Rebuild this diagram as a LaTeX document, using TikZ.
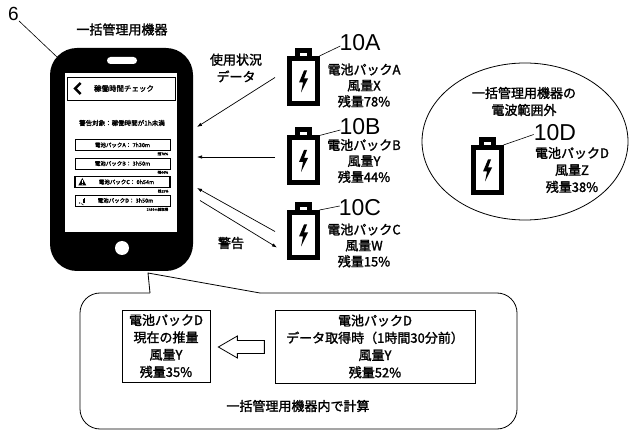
\documentclass[tikz,border=0pt]{standalone}
\usepackage{fontspec}
\setmainfont{Noto Sans CJK JP}[RawFeature={embolden=1.6}]
\newfontfamily\latinfont{Liberation Sans}
\usetikzlibrary{arrows.meta,calc,shapes.geometric}

\tikzset{
  battery/.pic={
    % body, cap and lightning bolt of a battery pack symbol
    \draw[line width=5pt] (-14,-19) rectangle (14,26);
    \draw[line width=5pt] (-6,-19) -- (-6,-27) -- (6,-27) -- (6,-19);
    \fill (1,-7) -- (-4,5) -- (0,5) -- (-2,15) -- (5,1) -- (1,1) -- (4,-7) -- cycle;
    \coordinate (-ne) at (16.5,-21.5);
    \coordinate (-out) at (-28,0);
    \coordinate (-in) at (-26,16);
  }
}

\begin{document}
\begin{tikzpicture}[x=1pt,y=-1pt,
  txt/.style={font=\fontsize{13}{16}\selectfont, align=center, inner sep=0pt},
  refnum/.style={font=\latinfont\fontsize{23}{23}\selectfont, inner sep=0pt},
  lead/.style={line width=0.6pt},
  flow/.style={line width=0.7pt, -{Latex[length=5pt,width=3.5pt]}},
  tiny/.style={font=\fontsize{5.5}{6}\selectfont, inner sep=0pt},
  micro/.style={font=\fontsize{3.5}{4}\selectfont, inner sep=0pt, anchor=east},
  itembox/.style={draw, line width=0.8pt, minimum width=95pt, minimum height=11pt, inner sep=0pt},
  calcbox/.style={draw, line width=0.7pt, align=center, inner sep=0pt,
    font=\fontsize{13}{17.3}\selectfont},
]
\useasboundingbox (0,0) rectangle (629,430);

% ---------- the central management device ----------
\node[fill=black, rounded corners=27pt, minimum width=143pt, minimum height=223pt, inner sep=0pt] (phone) at (121.5,159.5) {};
\node[fill=white, minimum width=112pt, minimum height=159pt, inner sep=0pt] (screen) at (121,152.5) {};
\node[fill=white, rounded corners=3.5pt, minimum width=30pt, minimum height=7pt, inner sep=0pt] (speaker) at (122,60.5) {};
\node[circle, fill=white, minimum size=14pt, inner sep=0pt] (home) at (122,248) {};

\node[txt] (devtitle) at (122,29.5) {一括管理用機器};
\node[font=\latinfont\fontsize{19}{19}\selectfont, inner sep=0pt] (six) at (13.5,14) {6};
\draw[lead] ($(six.south east)+(0,0)$) -- ($(phone.north west)+(7,9)$);

% screen contents
\node[draw, line width=0.8pt, minimum width=108pt, minimum height=23pt, inner sep=0pt] (titlebar) at (121,88.5) {};
\draw[line width=2.6pt] ($(titlebar.west)+(14,-5.5)$) -- ++(-5.5,5.5) -- ++(5.5,5.5);
\node[font=\fontsize{7.5}{8}\selectfont, inner sep=0pt] (titletext) at (124,88.5) {稼働時間チェック};
\node[font=\fontsize{6.5}{7}\selectfont, inner sep=0pt] (warnhead) at (122,123) {警告対象：稼働時間が1h未満};

\node[itembox] (it1) at (122.5,145) {};
\node[itembox] (it2) at (122.5,163.5) {};
\node[itembox, line width=1.4pt] (it3) at (122.5,182) {};
\node[itembox] (it4) at (122.5,200.5) {};
\node[tiny] at (it1) {電池パックA： 7h30m};
\node[tiny] at (it2) {電池パックB： 3h50m};
\node[tiny] at ($(it3)+(4,0)$) {電池パックC： 0h54m};
\node[tiny] at ($(it4)+(3,0)$) {電池パックD： 3h50m};
\node[micro] at ($(it1.south east)+(-2,3)$) {残78\%};
\node[micro] at ($(it2.south east)+(-2,3)$) {残44\%};
\node[micro] at ($(it3.south east)+(-2,3)$) {残15\%};
\node[micro] at ($(it4.south east)+(-2,3)$) {1h30m前取得};
% warning icon and signal icon
\fill ($(it3.west)+(4,3.5)$) -- ++(8,0) -- ++(-4,-7.5) -- cycle;
\draw[white, line width=0.7pt] ($(it3.west)+(8,-1.5)$) -- ++(0,2.8);
\fill[white] ($(it3.west)+(8,2.4)$) circle (0.45);
\fill ($(it4.west)+(5,2.5)$) circle (0.7);
\draw[line width=0.5pt] ($(it4.west)+(7,2.5)$) arc[start angle=180, end angle=90, radius=2];
\draw[line width=0.5pt] ($(it4.west)+(8.5,2.5)$) -- ++(0,-3.5);
\draw[line width=0.5pt] ($(it4.west)+(10,2.5)$) -- ++(0,-5);

% ---------- battery packs ----------
\pic (bA) at (303,77.5) {battery};
\pic (bB) at (303,157) {battery};
\pic (bC) at (303,231.5) {battery};

\node[refnum] (lA) at (360,43) {10A};
\node[refnum] (lB) at (360,127) {10B};
\node[refnum] (lC) at (360,208) {10C};
\draw[lead] (bA-ne) -- ($(lA.west)+(1,3)$);
\draw[lead] (bB-ne) -- ($(lB.west)+(1,3)$);
\draw[lead] (bC-ne) -- ($(lC.west)+(1,-2)$);

\node[txt] (tA) at (364,85.5) {電池パックA\\風量X\\残量78\%};
\node[txt] (tB) at (364,161) {電池パックB\\風量Y\\残量44\%};
\node[txt] (tC) at (364,245.5) {電池パックC\\風量W\\残量15\%};

% data flow between packs and device
\coordinate (pA) at (197,127);
\coordinate (pB) at (197,157);
\coordinate (pC) at (197,188);
\coordinate (pW) at (200,200.5);
\draw[flow] (bA-out) -- (pA);
\draw[flow] (bB-out) -- (pB);
\draw[flow] (bC-out) -- (pC);
\draw[flow] (pW) -- (bC-in);
\node[txt, font=\fontsize{13}{17}\selectfont] (usage) at (236,68) {使用状況\\データ};
\node[txt] (warn) at (231,243) {警告};

% ---------- pack outside radio range ----------
\node[draw, ellipse, line width=0.8pt, minimum width=206pt, minimum height=157pt, inner sep=0pt] (zone) at (525,141.5) {};
\node[txt, font=\fontsize{13}{17}\selectfont] (zonetitle) at (524,101.5) {一括管理用機器の\\電波範囲外};
\pic (bD) at (487,166.5) {battery};
\node[refnum] (lD) at (555,132.5) {10D};
\draw[lead] (bD-ne) -- ($(lD.west)+(0,2)$);
\node[txt, font=\fontsize{13}{17}\selectfont] (tD) at (572,170) {電池パックD\\風量Z\\残量38\%};

% ---------- callout: estimate computed inside the device ----------
\draw[line width=0.8pt, rounded corners=20pt] (260,293) -- (517,293) -- (517,429) -- (80,429) -- (80,293) -- (150,293);
\draw[line width=0.8pt, line join=miter] (150,293) -- (148,273) -- (260,293);

\node[calcbox, minimum width=88pt, minimum height=72pt] (now) at (166,346) {電池パックD\\現在の推量\\風量Y\\残量35\%};
\node[calcbox, minimum width=200pt, minimum height=73pt] (past) at (375,346.5) {電池パックD\\データ取得時（1時間30分前）\\風量Y\\残量52\%};
\draw[line width=0.8pt] ($(now.east)+(8,1)$) -- ++(19,-11) -- ++(0,4.5) -- ++(27,0) -- ++(0,13) -- ++(-27,0) -- ++(0,4.5) -- cycle;
\node[txt] (calcnote) at (298,406) {一括管理用機器内で計算};
\end{tikzpicture}
\end{document}
